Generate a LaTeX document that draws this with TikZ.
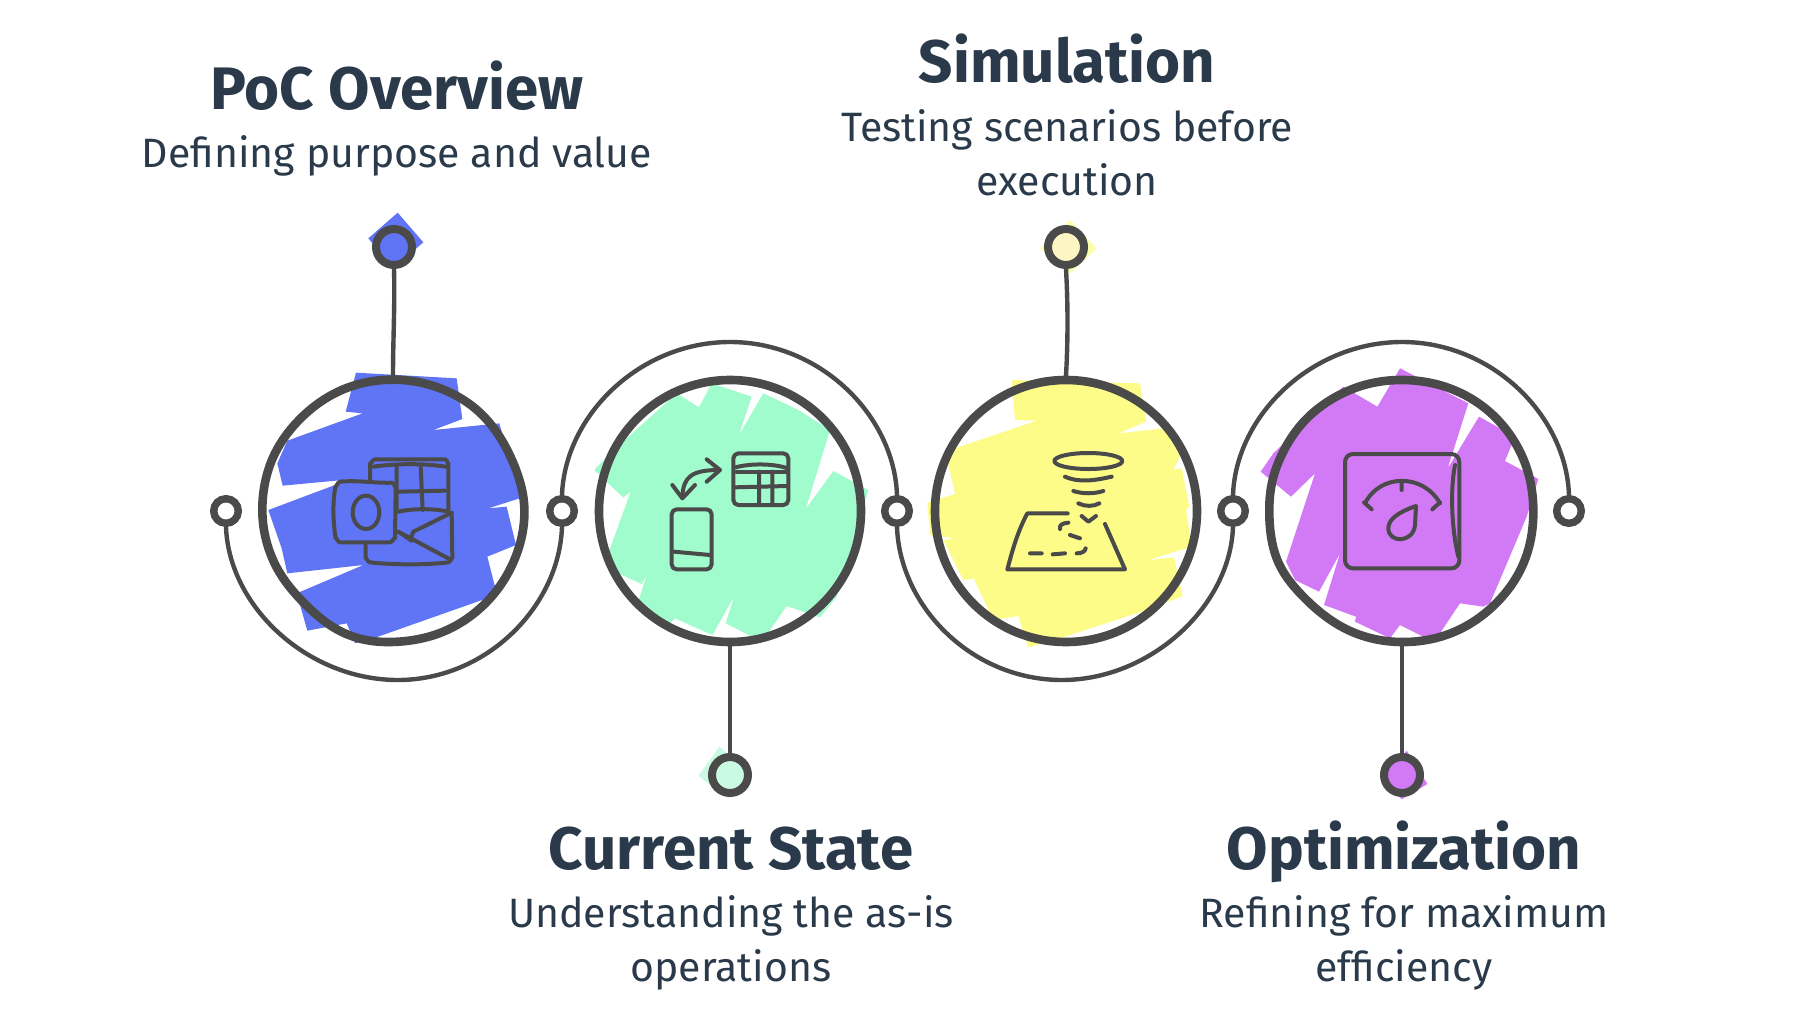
\documentclass[tikz,border=0pt]{standalone}
\usepackage{fontspec}
\setmainfont{Fira Sans}
\definecolor{ink}{HTML}{4A4A4A}
\definecolor{txt}{HTML}{2A3A4A}
\definecolor{cblue}{HTML}{5F75F5}
\definecolor{cmint}{HTML}{A0FBCD}
\definecolor{cyel}{HTML}{FDFC88}
\definecolor{cpur}{HTML}{D27AF6}
\definecolor{pmint}{HTML}{CBFAE2}
\definecolor{pyel}{HTML}{FDF6C4}
\tikzset{
 main/.style={circle,draw=ink,line width=4.3pt,minimum size=131pt,inner sep=0pt,fill=none},
 ghost/.style={circle,minimum size=131pt,inner sep=0pt,line width=4.3pt},
 wobble/.style={draw=ink,line width=4.3pt},
 joint/.style={circle,draw=ink,line width=3.7pt,fill=white,minimum size=12.3pt,inner sep=0pt},
 tip/.style={circle,draw=ink,line width=4pt,minimum size=18pt,inner sep=0pt},
 conn/.style={draw=ink,line width=2.2pt,line cap=round},
 glyph/.style={draw=ink,line width=2pt,line cap=round,line join=round},
 ttl/.style={text=txt,font=\fontsize{30}{33}\selectfont\bfseries,align=center,inner sep=0pt,anchor=base},
 sub/.style={text=txt,font=\fontsize{20.5}{27}\selectfont,align=center,inner sep=0pt},
 zoomed/.style={x=0.166667pt,y=-0.166667pt},
}
\begin{document}
\begin{tikzpicture}[x=0.5pt,y=-0.5pt]
\useasboundingbox (0,0) rectangle (1796,1012);
% blobs
\begin{scope}[shift={(200,200)},zoomed]
\fill[cblue] (468,518)--(770,535)--(787,657)--(700,690)--(898,670)--(918,740)--(925,777)--(945,785)--(965,893)--(865,925)--(920,920)--(948,1035)--(862,1070)--(885,1160)--(860,1195)--(520,1315)--(465,1330)--(440,1270)--(322,1292)--(290,1180)--(490,1095)--(262,1120)--(245,1045)--(205,930)--(450,838)--(248,857)--(232,790)--(262,722)--(488,640)--(437,635)--cycle;
\fill[cblue] (593,38)--(670,127)--(580,205)--(505,115)--cycle;
\end{scope}
\begin{scope}[shift={(560,330)},zoomed]
\fill[cmint] (455,160)--(575,200)--(537,315)--(610,190)--(715,240)--(810,300)--(737,537)--(820,423)--(925,480)--(830,800)--(780,862)--(680,828)--(620,915)--(575,920)--(497,880)--(522,800)--(457,915)--(345,865)--(320,890)--(237,808)--(260,735)--(245,762)--(175,730)--(145,670)--(212,485)--(190,503)--(103,420)--(150,370)--(350,190)--(417,232)--cycle;
\fill[pmint] (478,1250)--(560,1320)--(505,1405)--(415,1338)--cycle;
\end{scope}
\begin{scope}[shift={(900,220)},zoomed]
\fill[cyel] (335,480)--(720,490)--(738,605)--(655,640)--(820,622)--(850,690)--(820,748)--(845,745)--(868,860)--(858,870)--(875,980)--(745,1020)--(822,1012)--(848,1128)--(740,1170)--(470,1258)--(385,1282)--(355,1188)--(280,1200)--(222,1078)--(245,1073)--(190,1080)--(130,960)--(165,955)--(90,945)--(82,848)--(165,822)--(143,725)--(150,690)--(410,602)--(345,600)--cycle;
\fill[cyel!70!white] (510,0)--(590,85)--(510,160)--(420,85)--cycle;
\end{scope}
\begin{scope}[shift={(1220,330)},zoomed]
\fill[cpur] (540,115)--(745,220)--(683,415)--(777,260)--(885,320)--(855,393)--(955,447)--(920,560)--(810,820)--(790,830)--(720,820)--(660,910)--(610,920)--(540,885)--(510,925)--(405,875)--(408,860)--(312,825)--(360,670)--(297,785)--(225,750)--(198,695)--(285,430)--(213,500)--(122,425)--(160,370)--(370,170)--(472,230)--cycle;
\fill[cpur] (560,1262)--(622,1362)--(545,1408)--(490,1350)--cycle;
\end{scope}
% main circles
\node[ghost] (c1) at (393,511) {};
\node[main] (c2) at (730,511) {};
\node[main] (c3) at (1066,511) {};
\node[ghost] (c4) at (1402,511) {};
\begin{scope}[shift={(200,200)},zoomed]
\draw[wobble] plot[smooth cycle,tension=0.62] coordinates {(580,539)(728,568)(850,648)(935,778)(973,925)(945,1075)(858,1208)(725,1297)(565,1326)(428,1297)(308,1205)(220,1082)(187,935)(215,782)(302,655)(430,568)};
\end{scope}
\begin{scope}[shift={(1220,330)},zoomed]
\draw[wobble] plot[smooth cycle,tension=0.62] coordinates {(545,150)(697,178)(826,262)(912,392)(940,545)(912,696)(826,822)(697,908)(545,936)(395,905)(265,815)(172,690)(148,530)(178,390)(264,262)(395,178)};
\end{scope}
% joints
\node[joint] (j0) at (226,511) {};
\node[joint] (j1) at (562,511) {};
\node[joint] (j2) at (897,511) {};
\node[joint] (j3) at (1233,511) {};
\node[joint] (j4) at (1569,511) {};
% tips
\node[tip,fill=cblue] (t1) at (394,247) {};
\node[tip,fill=pmint] (t2) at (730,775) {};
\node[tip,fill=pyel] (t3) at (1066,247) {};
\node[tip,fill=cpur] (t4) at (1402,775) {};
% free bend points
\coordinate (b1) at (398,680);
\coordinate (b2) at (730,342);
\coordinate (b3) at (1062,680);
\coordinate (b4) at (1402,342);
% connectors
\path[conn] (t1.south) .. controls +(1,35) and +(0,-35) .. (c1.north);
\path[conn] (t2.north) -- (c2.south);
\path[conn] (t3.south) .. controls +(2,35) and +(2,-35) .. (c3.north);
\path[conn] (t4.north) -- (c4.south);
\path[conn] (j0.south) .. controls +(3,80) and +(-90,0) .. (b1) .. controls +(88,0) and +(-3,80) .. (j1.south);
\path[conn] (j1.north) .. controls +(3,-80) and +(-90,0) .. (b2) .. controls +(90,0) and +(-3,-80) .. (j2.north);
\path[conn] (j2.south) .. controls +(3,80) and +(-90,0) .. (b3) .. controls +(88,0) and +(-3,80) .. (j3.south);
\path[conn] (j3.north) .. controls +(3,-80) and +(-90,0) .. (b4) .. controls +(90,0) and +(-3,-80) .. (j4.north);
% icon 1
\begin{scope}[shift={(200,200)},zoomed]
\draw[glyph] (510,843)--(510,790) to[out=-90,in=180] (525,778)--(735,778) to[out=0,in=-90] (745,790)--(745,935);
\draw[glyph] (520,800) .. controls (590,790) and (670,790) .. (738,800);
\draw[glyph] (590,800)--(590,930) (662,800)--(668,930) (595,875)--(735,872);
\draw[glyph] (595,935) .. controls (640,925) and (700,925) .. (745,935);
\draw[glyph] (755,938)--(757,1075) to[out=90,in=0] (745,1087) .. controls (680,1095) and (580,1095) .. (510,1087) to[out=180,in=90] (497,1075)--(497,1030);
\draw[glyph] (595,995)--(750,1078) (635,1008)--(640,995)--(755,938) (595,995)--(635,1022);
\draw[glyph] (420,845) .. controls (470,840) and (530,850) .. (575,848) to[out=0,in=-90] (587,860) -- (585,1015) to[out=90,in=0] (570,1027) -- (420,1027) to[out=180,in=90] (407,1015) .. controls (398,960) and (398,900) .. (407,858) to[out=-90,in=180] cycle;
\draw[glyph] (498,937) ellipse [x radius=40,y radius=50];
\end{scope}
% icon 2
\begin{scope}[shift={(560,330)},zoomed]
\draw[glyph,rounded corners=2.5pt] (520,370)--(685,370)--(685,525)--(520,525)--cycle;
\draw[glyph] (527,412) .. controls (570,400) and (640,400) .. (683,415);
\draw[glyph] (530,425)--(683,425);
\draw[glyph] (522,472)--(683,468) (597,425)--(597,520) (637,425)--(637,520);
\draw[glyph,rounded corners=2.5pt] (335,538)--(455,538)--(455,718)--(335,718)--cycle;
\draw[glyph] (342,665)--(450,675);
\draw[glyph] (367,500) .. controls (370,440) and (395,420) .. (478,420);
\draw[glyph] (440,388)--(480,420)--(440,455) (337,465)--(367,505)--(405,465);
\end{scope}
% icon 3
\begin{scope}[shift={(900,220)},zoomed]
\draw[glyph] (565,723) ellipse [x radius=102,y radius=24];
\draw[glyph] (495,770) .. controls (540,790) and (590,780) .. (635,770);
\draw[glyph] (520,813) .. controls (550,822) and (580,822) .. (610,813);
\draw[glyph] (535,850) .. controls (555,860) and (580,860) .. (598,850);
\draw[glyph] (545,888)--(565,905)--(588,888);
\draw[glyph] (503,880)--(382,880) .. controls (350,940) and (335,1000) .. (322,1048)--(675,1048)--(615,912);
\draw[glyph] (505,908) .. controls (485,910) and (478,915) .. (480,927);
\draw[glyph] (510,945)--(540,955);
\draw[glyph] (557,985) .. controls (555,995) and (545,1000) .. (530,1000);
\draw[glyph] (495,1000)--(458,1003) (425,1000)--(390,1000);
\end{scope}
% icon 4
\begin{scope}[shift={(1220,330)},zoomed]
\draw[glyph,rounded corners=4pt] (375,372)--(718,372)--(718,715)--(375,715)--cycle;
\draw[glyph] (705,405) .. controls (690,480) and (695,600) .. (715,680);
\draw[glyph] (435,520) .. controls (480,430) and (610,430) .. (660,520);
\draw[glyph] (545,455)--(545,480) (432,517)--(455,538) (660,517)--(637,538);
\draw[glyph] (588,528) .. controls (540,545) and (505,565) .. (505,595) .. controls (505,640) and (580,640) .. (585,585) -- cycle;
\end{scope}
% labels
\node[ttl] (h1) at (397,109) {PoC Overview};
\node[sub] (d1) at (397,156.3) {Defining purpose and value};
\node[ttl] (h2) at (731,869) {Current State};
\node[sub] (d2) at (731,943.3) {Understanding the as-is\\operations};
\node[ttl] (h3) at (1067,83) {Simulation};
\node[sub] (d3) at (1067,152.5) {Testing scenarios before\\execution};
\node[ttl] (h4) at (1404,869) {Optimization};
\node[sub] (d4) at (1404,943.3) {Refining for maximum\\efficiency};
\end{tikzpicture}
\end{document}
